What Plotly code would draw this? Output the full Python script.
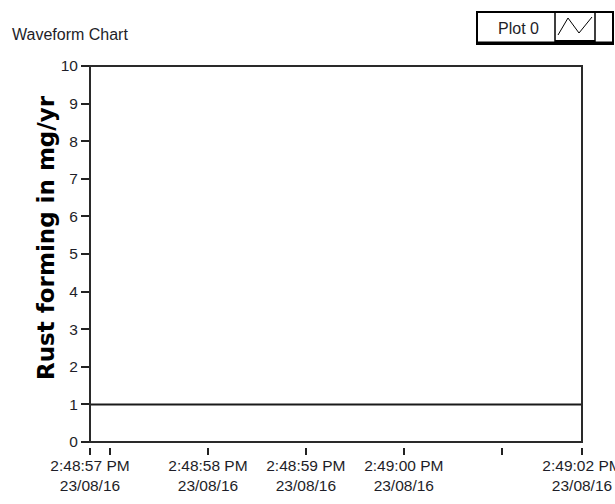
import plotly.graph_objects as go

# ---- data ----
times = ["2016-08-23 14:48:56.795", "2016-08-23 14:48:57", "2016-08-23 14:48:58",
         "2016-08-23 14:48:59", "2016-08-23 14:49:00", "2016-08-23 14:49:01",
         "2016-08-23 14:49:01.82"]
values = [1, 1, 1, 1, 1, 1, 1]
x_tick_vals = times
x_tick_text = ["2:48:57 PM<br>23/08/16", "", "2:48:58 PM<br>23/08/16",
               "2:48:59 PM<br>23/08/16", "2:49:00 PM<br>23/08/16", "",
               "2:49:02 PM<br>23/08/16"]
y_ticks = list(range(0, 11))
chart_title = "Waveform Chart"
y_title = "Rust forming in mg/yr"
legend_name = "Plot 0"

W, H = 615, 504
# plot area in screen pixels
SL, SR, ST, SB = 90, 582, 66, 442
GAP = 5
ML, MR, MT, MB = SL, W - SR, ST, H - SB - GAP
PW, PH = W - ML - MR, H - MT - MB


def px(x):
    return (x - ML) / PW


def py(y):
    return (H - MB - y) / PH


FONT = "Liberation Sans, Arial, sans-serif"
TXT = "#1e1e28"

fig = go.Figure()
fig.add_trace(go.Scatter(x=times, y=values, mode="lines",
                         line=dict(color="#1a1a1a", width=2),
                         name=legend_name, showlegend=False))

fig.update_layout(
    width=W, height=H,
    margin=dict(l=ML, r=MR, t=MT, b=MB),
    paper_bgcolor="white", plot_bgcolor="white",
    font=dict(family=FONT, color=TXT, size=15),
    xaxis=dict(type="date", range=[times[0], times[-1]], automargin=False,
               tickmode="array", tickvals=x_tick_vals, ticktext=x_tick_text,
               ticks="outside", ticklen=7, tickwidth=2, tickcolor="#222",
               showgrid=False, zeroline=False, showline=False,
               anchor="free", position=0, ticklabeloverflow="allow",
               ticklabelstandoff=-3,
               tickfont=dict(size=15.5, family=FONT, color=TXT)),
    yaxis=dict(range=[0, 10], domain=[GAP / PH, 1], tickmode="array", automargin=False,
               tickvals=y_ticks, ticks="outside", ticklen=8, tickwidth=2,
               tickcolor="#222", showgrid=False, zeroline=False, showline=False,
               tickfont=dict(size=15.5, family=FONT, color=TXT)),
)

# chart title
fig.add_annotation(text=chart_title, xref="paper", yref="paper", x=px(10), y=py(34),
                   xanchor="left", yanchor="middle", showarrow=False,
                   font=dict(family=FONT, size=16, color=TXT))
# y axis title
fig.add_annotation(text=y_title, xref="paper", yref="paper", x=px(46), y=py(238),
                   xanchor="center", yanchor="middle", showarrow=False, textangle=-90,
                   font=dict(family="DejaVu Sans, Verdana, sans-serif", size=23,
                             color="black", weight="bold"))

# plot frame
fig.add_shape(type="rect", xref="x domain", yref="y domain", x0=0, x1=1, y0=0, y1=1,
              line=dict(color="#2a2a2a", width=2), layer="above")

# legend box drawn by hand (screen pixels)
L, R, T, B = 477, 613, 12, 44
fig.add_shape(type="rect", xref="paper", yref="paper", x0=px(L), x1=px(R), y0=py(B), y1=py(T),
              line=dict(color="black", width=2), fillcolor="white")
fig.add_shape(type="line", xref="paper", yref="paper", x0=px(L), x1=px(R), y0=py(B - 1), y1=py(B - 1),
              line=dict(color="black", width=3))
fig.add_shape(type="rect", xref="paper", yref="paper", x0=px(555), x1=px(595), y0=py(B), y1=py(T),
              line=dict(color="black", width=1.5))
fig.add_shape(type="line", xref="paper", yref="paper", x0=px(555), x1=px(595), y0=py(B - 2), y1=py(B - 2),
              line=dict(color="black", width=4))
fig.add_shape(type="path", xref="paper", yref="paper",
              path=f"M {px(558)} {py(35)} L {px(568)} {py(18)} L {px(579)} {py(33)} L {px(592)} {py(17)}",
              line=dict(color="black", width=1))
fig.add_annotation(text=legend_name, xref="paper", yref="paper", x=px(518), y=py(28),
                   xanchor="center", yanchor="middle", showarrow=False,
                   font=dict(family=FONT, size=16, color=TXT))

fig.write_html("out.html", config={"displayModeBar": False},
               post_script="document.body.style.margin='0';document.body.style.overflow='hidden';")
